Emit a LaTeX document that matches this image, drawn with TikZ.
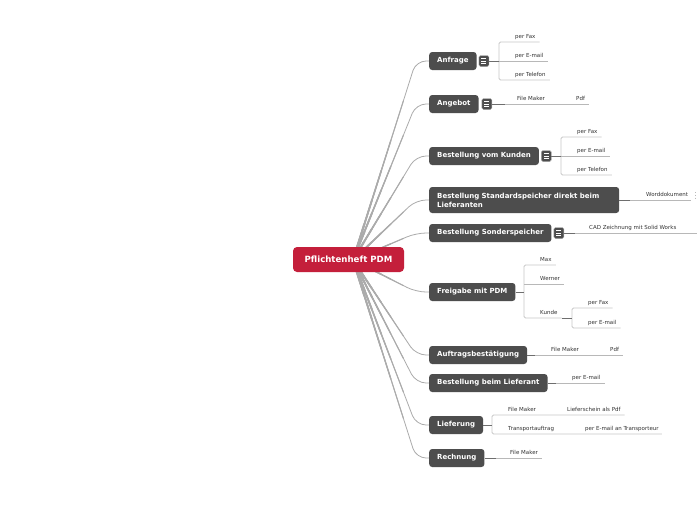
\documentclass[tikz,border=0pt]{standalone}
\usepackage{fontspec}
\setmainfont{DejaVu Sans}
\usetikzlibrary{calc,backgrounds}
\definecolor{nodegray}{HTML}{4D4D4D}
\definecolor{rootred}{HTML}{C41F3B}
\definecolor{conngray}{HTML}{ABABAB}
\definecolor{brgray}{HTML}{C8C8C8}
\definecolor{ulgray}{HTML}{B8B8B8}
\definecolor{linkgray}{HTML}{6E6E6E}
\definecolor{txtgray}{HTML}{333333}
\tikzset{
  topic/.style={fill=nodegray, rounded corners=3pt, text=white,
    font=\fontsize{7}{9}\selectfont\bfseries, anchor=west,
    minimum height=18pt, inner xsep=8pt, inner ysep=2pt},
  rootbox/.style={fill=rootred, rounded corners=4pt, text=white,
    font=\fontsize{8.6}{10}\selectfont\bfseries,
    minimum height=25pt, minimum width=111pt, inner sep=0pt},
  leaf/.style={font=\fontsize{5.5}{6.5}\selectfont, text=txtgray,
    anchor=south west, inner xsep=0pt, inner ysep=3.5pt, text depth=0pt},
  conn/.style={draw=conngray, line cap=round, rounded corners=10pt},
  uline/.style={draw=ulgray, line width=0.7pt},
  bracket/.style={draw=brgray, line width=0.8pt, rounded corners=1.5pt},
  link/.style={draw=linkgray, line width=1pt},
  menu/.style={fill=nodegray, draw=gray!60, line width=0.4pt, rounded corners=1.5pt,
    minimum width=10pt, minimum height=11pt, inner sep=0pt, anchor=west,
    path picture={\foreach \yy in {-2.6,0,2.6}
      \draw[white, line width=0.6pt]
        ([xshift=2.5pt,yshift=\yy pt]path picture bounding box.west) --
        ([xshift=-2.5pt,yshift=\yy pt]path picture bounding box.east);}},
}
\begin{document}
\begin{tikzpicture}[x=1pt,y=-1pt]
\useasboundingbox (0,0) rectangle (697,520);

% root
\node[rootbox] (root) at (348.5,259.5) {Pflichtenheft PDM};
\coordinate (rc) at (353,260);

% main topics
\node[topic] (anfrage) at (429,61) {Anfrage};
\node[topic] (angebot) at (429,104) {Angebot};
\node[topic] (kunden) at (429,156) {Bestellung vom Kunden};
\node[topic, text width=174pt, align=left, minimum height=26pt] (standard) at (429,200)
  {Bestellung Standardspeicher direkt beim\\Lieferanten};
\node[topic] (sonder) at (429,233) {Bestellung Sonderspeicher};
\node[topic] (freigabe) at (429,292) {Freigabe mit PDM};
\node[topic] (auftrag) at (429,355) {Auftragsbestätigung};
\node[topic] (lieferant) at (429,383) {Bestellung beim Lieferant};
\node[topic] (lieferung) at (429,425) {Lieferung};
\node[topic] (rechnung) at (429,458) {Rechnung};

% menu icons
\node[menu] (m1) at ([xshift=2pt]anfrage.east) {};
\node[menu] (m2) at ([xshift=3pt]angebot.east) {};
\node[menu] (m3) at ([xshift=2pt]kunden.east) {};
\node[menu] (m4) at ([xshift=2pt]sonder.east) {};

% background and connectors from root
\begin{scope}[on background layer]
\fill[white] (0,0) rectangle (697,520);
\foreach \n in {anfrage,angebot,kunden,standard,sonder,freigabe,auftrag,lieferant,lieferung,rechnung}{
  \draw[conn, line width=0.8pt] (rc) -- ([xshift=-13pt]\n.west) -- (\n.west);
  \foreach \f/\w in {0.8/1.05pt, 0.6/1.3pt, 0.45/1.55pt, 0.3/1.8pt, 0.18/2.1pt}{
    \draw[conn, line width=\w] (rc) -- ($(rc)!\f!([xshift=-13pt]\n.west)$);
  }
}
\end{scope}

% Anfrage
\node[leaf] (a1) at (515,42) {per Fax};
\node[leaf] (a2) at (515,61) {per E-mail};
\node[leaf] (a3) at (515,80) {per Telefon};
\draw[bracket] ([xshift=4pt]a1.south east) -| (499,80) -- ([xshift=4pt]a3.south east);
\draw[uline] (499,61) -- ([xshift=4pt]a2.south east);
\draw[link] (m1.east) -- (499,61);

% Angebot
\node[leaf] (b1) at (517,104) {File Maker};
\node[leaf] (b2) at (576,104) {Pdf};
\draw[uline] ([xshift=-12pt]b1.south west) -- ([xshift=4pt]b2.south east);
\draw[link] (m2.east) -- ([xshift=-12pt]b1.south west);

% Bestellung vom Kunden
\node[leaf] (c1) at (577,137) {per Fax};
\node[leaf] (c2) at (577,156) {per E-mail};
\node[leaf] (c3) at (577,175) {per Telefon};
\draw[bracket] ([xshift=4pt]c1.south east) -| (561,175) -- ([xshift=4pt]c3.south east);
\draw[uline] (561,156) -- ([xshift=4pt]c2.south east);
\draw[link] (m3.east) -- (561,156);

% Standardspeicher
\node[leaf] (d1) at (646,200) {Worddokument};
\draw[uline] ([xshift=-16pt]d1.south west) -- ([xshift=3pt]d1.south east);
\draw[link] (standard.east) -- ([xshift=-16pt]d1.south west);
\draw[gray!55, dotted, line width=0.8pt] (695.5,192) -- (695.5,200);

% Sonderspeicher
\node[leaf] (e1) at (589,233) {CAD Zeichnung mit Solid Works};
\draw[uline] ([xshift=-14pt]e1.south west) -- (697,233);
\draw[link] (m4.east) -- ([xshift=-14pt]e1.south west);

% Freigabe
\node[leaf] (f1) at (540,265) {Max};
\node[leaf] (f2) at (540,284) {Werner};
\node[leaf] (f3) at (540,318) {Kunde};
\draw[bracket] ([xshift=4pt]f1.south east) -| (524,318) -- ([xshift=4pt]f3.south east);
\draw[uline] (524,284) -- ([xshift=4pt]f2.south east);
\draw[link] (freigabe.east) -- (524,292);
\node[leaf] (g1) at (588,308) {per Fax};
\node[leaf] (g2) at (588,328) {per E-mail};
\draw[bracket] ([xshift=4pt]g1.south east) -| (572,328) -- ([xshift=4pt]g2.south east);
\draw[link] ([xshift=4pt]f3.south east) -- (572,318);

% Auftragsbestaetigung
\node[leaf] (h1) at (551,355) {File Maker};
\node[leaf] (h2) at (610,355) {Pdf};
\draw[uline] ([xshift=-16pt]h1.south west) -- ([xshift=4pt]h2.south east);
\draw[link] (auftrag.east) -- ([xshift=-16pt]h1.south west);

% Bestellung beim Lieferant
\node[leaf] (i1) at (572,383) {per E-mail};
\draw[uline] ([xshift=-16pt]i1.south west) -- ([xshift=4pt]i1.south east);
\draw[link] (lieferant.east) -- ([xshift=-16pt]i1.south west);

% Lieferung
\node[leaf] (j1) at (508,415) {File Maker};
\node[leaf] (j2) at (567,415) {Lieferschein als Pdf};
\node[leaf] (j3) at (508,434) {Transportauftrag};
\node[leaf] (j4) at (585,434) {per E-mail an Transporteur};
\draw[bracket] ([xshift=4pt]j2.south east) -| (492,434) -- ([xshift=3pt]j4.south east);
\draw[link] (lieferung.east) -- (492,425);

% Rechnung
\node[leaf] (k1) at (510,458) {File Maker};
\draw[uline] ([xshift=-14pt]k1.south west) -- ([xshift=4pt]k1.south east);
\draw[link] (rechnung.east) -- ([xshift=-14pt]k1.south west);
\end{tikzpicture}
\end{document}
